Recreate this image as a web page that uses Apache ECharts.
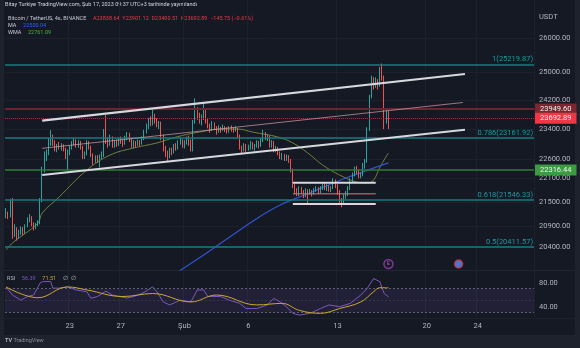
<!DOCTYPE html>
<html><head><meta charset="utf-8">
<script src="https://cdn.jsdelivr.net/npm/echarts@6/dist/echarts.min.js"></script>
<style>
html,body{margin:0;padding:0;background:#1e222d;}
#bg{position:absolute;left:4px;top:0;width:571px;height:335px;background:#151924;}
#c{position:absolute;left:0;top:0;width:580px;height:348px;}
</style>
</head><body><div id="bg"></div><div id="c"></div>
<script>
// ---- data ----
const firstOpen = 21150;
const closes = [
21200,21150,21450,20700,20850,20650,20750,20820,20760,20900,
21050,21120,20950,20880,20920,20980,21550,22300,22650,22750,
23050,23200,23050,22850,22950,22900,22950,22880,22700,22750,
22900,23000,23100,22950,23050,22900,22650,22750,23050,22900,
22700,22550,22650,22600,22650,22700,23300,23100,23000,23150,
22950,23050,22980,23100,23050,23000,23150,23250,23100,22950,
23050,22980,23050,23000,23150,23300,23450,23600,23550,23750,
23650,23500,23550,23200,22900,22750,22650,22850,22800,22950,
22900,23050,23100,22950,23050,23150,23100,22850,23600,23900,
23800,23650,23750,23900,23650,23500,23400,23550,23450,23350,
23420,23380,23450,23400,23350,23450,23400,23380,23420,23200,
22900,22850,22950,22850,22900,23000,22900,22950,23050,22950,
23100,23300,23150,23200,22950,23050,22850,22900,22750,22650,
22700,22600,22680,22550,22300,21900,21800,21700,21850,21750,
21680,21800,21720,21780,21700,21800,21850,21750,21850,21950,
21850,21900,21800,21850,22050,21900,21750,21550,21500,21650,
21700,21850,22050,22200,22350,22300,22150,22200,22450,22550,
23400,24300,24800,24600,24750,24600,25050,24850,23700,23838.64,23692.89];
const highs = [
21350,21260,21580,21600,20950,20880,20820,20900,20880,20950,
21120,21200,21150,21000,20980,21050,21600,22400,22800,22850,
23150,23370,23250,23100,23000,23050,23020,22990,22900,22850,
22950,23080,23150,23120,23100,23080,22950,22800,23100,23080,
22950,22750,22700,22700,22720,22800,23400,23780,23180,23250,
23200,23100,23120,23150,23200,23120,23220,23320,23300,23150,
23100,23080,23120,23100,23200,23380,23550,23700,23750,23950,
23820,23700,23620,23600,23250,22950,22820,22900,22900,23000,
23020,23100,23180,23120,23100,23200,23220,23120,23650,24250,
24000,23850,23800,24100,23950,23700,23550,23620,23580,23480,
23500,23460,23520,23480,23450,23480,23500,23450,23480,23430,
23250,22950,23020,23000,22980,23080,23050,23000,23100,23080,
23150,23380,23320,23250,23220,23100,23080,22950,22920,22800,
22760,22730,22720,22700,22600,22350,21950,21850,21900,21880,
21800,21850,21820,21830,21800,21850,21900,21880,21900,22000,
21980,21950,21930,21900,22100,22070,21950,21800,21600,21700,
21780,21900,22100,22250,22400,22420,22330,22250,22500,22600,
23450,24350,24900,24850,24850,24800,25150,25250,24900,23950,23901.12];
const lows = [
21100,21080,21120,20600,20650,20560,20600,20700,20680,20720,
20880,21000,20900,20800,20830,20900,20950,21500,22250,22550,
22700,22950,22950,22800,22780,22850,22820,22800,22600,22300,
22700,22850,22950,22900,22900,22850,22600,22600,22700,22850,
22650,22450,22500,22500,22380,22600,22650,23000,22900,22950,
22900,22900,22920,22950,23000,22920,22980,23100,23050,22900,
22880,22900,22950,22930,22980,23100,23280,23400,23480,23500,
23550,23450,23400,23100,22800,22650,22550,22620,22700,22750,
22820,22850,22980,22900,22880,22980,22950,22800,22800,23550,
23650,23550,23500,23650,23550,23420,23300,23350,23380,23250,
23300,23300,23350,23320,23280,23300,23330,23300,23330,23150,
22850,22750,22800,22780,22820,22850,22850,22820,22900,22880,
22920,23050,23100,23080,22900,22900,22780,22780,22700,22600,
22580,22550,22550,22500,22250,21850,21700,21650,21650,21700,
21600,21620,21480,21680,21640,21680,21750,21700,21720,21800,
21800,21780,21760,21750,21830,21850,21680,21480,21370,21450,
21580,21650,21800,22000,22150,22200,22100,22100,22150,22350,
22500,23350,24250,24500,24550,24500,24580,24750,23400,23550,23400.51];

// moving averages (slot index, value)
const wmaSlots = [0,3,15,17,25,38,49,60,71,80,91,101,109,116,128,135,142,149,157,165,170,173,176,180];
const wmaVals  = [20337,20501,20982,21226,21627,22313,22706,22892,23026,23185,23319,23401,23401,23319,23185,23026,22761,22443,22185,22006,21980,22056,22391,22761.09];
const maSlots = [78,83,93,117,129,144,160,180];
const maVals  = [19740,19893,20217,21058,21427,21752,22108,22500.04];

// RSI pane
const rsiSlots = [0,3,7,10,13,16,17,21,22,25,29,33,38,40,43,47,50,57,60,64,69,71,74,77,82,87,90,93,95,101,105,110,113,118,123,126,129,132,135,138,143,148,152,157,162,167,170,173,176,177,178,180];
const rsiVals  = [73,59.5,51,57,59.5,79.5,81.7,82,71,71,73,68,65,54,57,66,59.5,54.5,57,62,73,65,48,43,51,48,68,68,57,57,51,45.6,37,37,43,54,48,40,29,26,29,37,43,40,45.6,59.5,70.6,87,81.7,70.6,62,56.39];
const rsiMaSlots = [0,15,29,38,55,69,87,99,118,130,138,148,157,167,173,176,180];
const rsiMaVals  = [73,55,73,68,57,62,48,59.5,43,45.6,34,29,37,48,65,71.7,71.51];

// drawings (slot, price)
const upperChannel = [[17,23629],[216,24944]];
const lowerChannel = [[17,22185],[216,23382]];
const midChannel   = [[17,22883],[215,24133]];
const boxTop = [[135,21989],[174,21989]];
const boxBottom = [[135,21450],[174,21450]];
const boxMid = [[135,21708],[174,21708]];

// levels
const fibLevels = [25219.87, 23161.92, 21546.33, 20411.57];
const fibNames  = ['1(25219.87)','0.786(23161.92)','0.618(21546.33)','0.5(20411.57)'];
const levelHigh = 23949.60, lastPrice = 23692.89, levelGreen = 22316.44;

// axes
const nSlots = 249;
const tickIdx = [30,54,84,114,156,198,222];
const tickLabels = ['23','27','Şub','6','13','20','24'];
const priceTicks = [26000,25000,24200,23400,22600,22100,21500,20900,20400];
const rsiTicks = [80,40];
const eventSlots = [180,213];

// ---- build ----
const categories = Array.from({length:nSlots},(_,i)=>String(i));
const ohlc = closes.map((c,i)=>{
  const o = i===0 ? firstOpen : closes[i-1];
  return [o,c,lows[i],highs[i]];
});
const pairs = (xs,ys)=>xs.map((x,i)=>[x,ys[i]]);
const FONT = 'Roboto';
const AX = '#b2b5be';

const tickFn = (i)=>tickIdx.indexOf(i)>=0;

function lineSeries(data,color,width,extra){
  return Object.assign({type:'line',xAxisIndex:0,yAxisIndex:0,data:data,symbol:'none',silent:true,clip:true,
    lineStyle:{color:color,width:width},z:3},extra||{});
}

const fibMarks = fibLevels.map((v,i)=>({yAxis:v,
  lineStyle:{color:'#137c80',width:1.6,type:'solid'},
  label:{show:true,position:'insideEndTop',formatter:fibNames[i],color:'#1e9aa0',fontSize:7.5,fontFamily:FONT,distance:1}}));

const tag = (v,bg,lc,lw,lt)=>({yAxis:v,
  lineStyle:{color:lc,width:lw,type:lt},
  label:{show:true,position:'end',formatter:v.toFixed(2),color:'#f0f0f0',backgroundColor:bg,
    padding:[2,5,1,5],fontSize:7.5,fontFamily:FONT,distance:1}});

const option = {
  backgroundColor:'transparent',
  animation:false,
  grid:[
    {left:5,right:46,top:0,height:270},
    {left:5,right:46,top:270,height:47}
  ],
  xAxis:[
    {type:'category',gridIndex:0,data:categories,boundaryGap:true,
     axisLine:{show:false},axisTick:{show:false},axisLabel:{show:false},
     splitLine:{show:true,interval:tickFn,lineStyle:{color:'#1d212c',width:1}}},
    {type:'category',gridIndex:1,data:categories,boundaryGap:true,
     axisLine:{show:false},axisTick:{show:false},
     axisLabel:{show:true,interval:tickFn,formatter:(v,i)=>tickLabels[tickIdx.indexOf(i)],
       color:AX,fontSize:7.5,fontFamily:FONT,margin:5},
     splitLine:{show:true,interval:tickFn,lineStyle:{color:'#1d212c',width:1}}}
  ],
  yAxis:[
    {type:'log',gridIndex:0,position:'right',min:19869,max:27182,logBase:10,
     axisLine:{show:false},axisTick:{show:false,customValues:priceTicks},
     axisLabel:{customValues:priceTicks,formatter:v=>Number(v).toFixed(2),color:AX,fontSize:7.5,fontFamily:FONT,margin:5},
     splitLine:{show:true,lineStyle:{color:'#1d212c'}}},
    {type:'value',gridIndex:1,position:'right',min:22.9,max:101.2,
     axisLine:{show:false},axisTick:{show:false,customValues:rsiTicks},
     axisLabel:{customValues:rsiTicks,formatter:v=>Number(v).toFixed(2),color:AX,fontSize:7.5,fontFamily:FONT,margin:5},
     splitLine:{show:false}}
  ],
  series:[
    {type:'candlestick',xAxisIndex:0,yAxisIndex:0,data:ohlc,barWidth:'55%',silent:true,z:4,
     itemStyle:{color:'#26a69a',color0:'#ef5350',borderColor:'#26a69a',borderColor0:'#ef5350',borderWidth:1},
     markLine:{symbol:['none','none'],silent:true,animation:false,precision:2,
       data: fibMarks.concat([
         tag(levelHigh,'#7b2630','#6e2430',2,'solid'),
         tag(lastPrice,'#f23645','#a8323c',1,'dotted'),
         tag(levelGreen,'#3c9b40','#2e7d32',1.6,'solid')
       ])}},
    lineSeries(pairs(wmaSlots,wmaVals),'#6f803a',1,{smooth:0.4}),
    lineSeries(pairs(maSlots,maVals),'#2f53c9',1.3,{smooth:0.3}),
    lineSeries(upperChannel,'#d6d8de',2.2,{z:5}),
    lineSeries(lowerChannel,'#d6d8de',2.2,{z:5}),
    lineSeries(midChannel,'rgba(214,160,170,0.7)',1,{z:5}),
    lineSeries(boxTop,'#d6d8de',2,{z:5}),
    lineSeries(boxBottom,'#d6d8de',2,{z:5}),
    lineSeries(boxMid,'rgba(200,110,120,0.75)',1.5,{z:5}),
    {type:'scatter',xAxisIndex:0,yAxisIndex:0,silent:true,z:6,
     data:[[eventSlots[0],20008]],symbol:'circle',symbolSize:9,
     itemStyle:{color:'#151924',borderColor:'#9c3fb5',borderWidth:1.5},
     label:{show:true,formatter:'E',color:'#c27ad6',fontSize:5,position:'inside'}},
    {type:'scatter',xAxisIndex:0,yAxisIndex:0,silent:true,z:6,
     data:[[eventSlots[1],20008]],symbol:'circle',symbolSize:8,
     itemStyle:{color:'#5b8def',borderColor:'#d2344a',borderWidth:1.5}},
    {type:'line',xAxisIndex:1,yAxisIndex:1,data:pairs(rsiSlots,rsiVals),symbol:'none',silent:true,
     lineStyle:{color:'#7e57c2',width:1},z:4,
     markArea:{silent:true,itemStyle:{color:'rgba(126,87,194,0.12)'},data:[[{yAxis:70},{yAxis:30}]]},
     markLine:{symbol:['none','none'],silent:true,label:{show:false},
       data:[{yAxis:70,lineStyle:{color:'#5d6070',type:[2,2],width:1}},
             {yAxis:50,lineStyle:{color:'rgba(93,96,112,0.35)',type:[2,2],width:1}},
             {yAxis:30,lineStyle:{color:'#5d6070',type:[2,2],width:1}}]}},
    {type:'line',xAxisIndex:1,yAxisIndex:1,data:pairs(rsiMaSlots,rsiMaVals),symbol:'none',silent:true,smooth:0.4,
     lineStyle:{color:'#c9a92a',width:1},z:5}
  ],
  graphic:[
    {type:'rect',shape:{x:4,y:270,width:571,height:0.8},style:{fill:'#262a35'},silent:true},
    {type:'rect',shape:{x:4,y:318,width:571,height:0.8},style:{fill:'#20242f'},silent:true},
    {type:'text',left:5,top:2,silent:true,style:{text:'Bitay Turkiye TradingView.com, Şub 17, 2023 09:37 UTC+3 tarihinde yayımlandı',fill:'#d1d4dc',fontSize:5.5,fontFamily:FONT}},
    {type:'text',left:8,top:13,silent:true,style:{
      text:'{g|Bitcoin / TetherUS, 4s, BINANCE}  {r|A23838.64  Y23901.12  D23400.51  K23692.89  −145.75 (−0.61%)}',
      rich:{g:{fill:'#c8cad2',fontSize:5.5,fontFamily:FONT},r:{fill:'#f23645',fontSize:5.5,fontFamily:FONT}}}},
    {type:'text',left:8,top:20,silent:true,style:{text:'{g|MA}  {b|22500.04}',
      rich:{g:{fill:'#c8cad2',fontSize:5.5,fontFamily:FONT},b:{fill:'#2962ff',fontSize:5.5,fontFamily:FONT}}}},
    {type:'text',left:8,top:27,silent:true,style:{text:'{g|WMA}  {b|22761.09}',
      rich:{g:{fill:'#c8cad2',fontSize:5.5,fontFamily:FONT},b:{fill:'#4caf50',fontSize:5.5,fontFamily:FONT}}}},
    {type:'text',left:7,top:273,silent:true,style:{text:'{g|RSI}  {p|56.39}  {y|71.51}  {g|∅  ∅}',
      rich:{g:{fill:'#b2b5be',fontSize:5.5,fontFamily:FONT},p:{fill:'#7e57c2',fontSize:5.5,fontFamily:FONT},y:{fill:'#c9a92a',fontSize:5.5,fontFamily:FONT}}}},
    {type:'text',left:539,top:13,silent:true,style:{text:'USDT',fill:AX,fontSize:7.5,fontFamily:FONT}},
    {type:'text',left:5,top:338,silent:true,style:{text:'{t|TV} TradingView',fill:'#8a8e99',fontSize:5.5,fontFamily:FONT,
      rich:{t:{fill:'#b2b5be',fontSize:5.5,fontWeight:'bold',fontFamily:FONT}}}}
  ]
};
const chart = echarts.init(document.getElementById('c'),null,{renderer:'canvas'});
chart.setOption(option);
</script>
</body></html>
